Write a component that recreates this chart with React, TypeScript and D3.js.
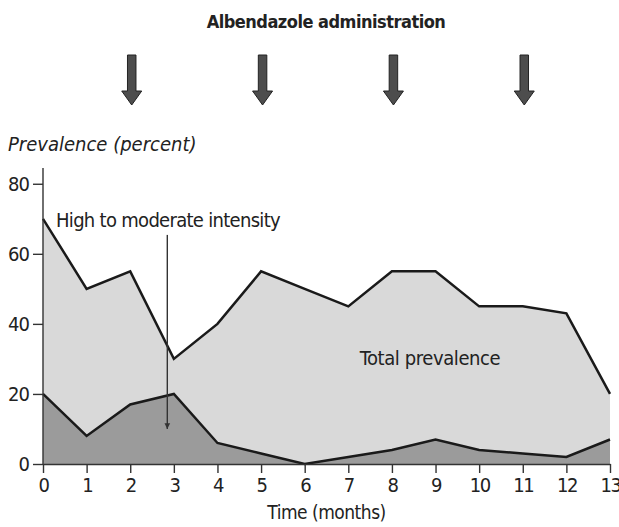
import { useEffect, useRef } from "react";
import * as d3 from "d3";

const months = [0, 1, 2, 3, 4, 5, 6, 7, 8, 9, 10, 11, 12, 13];
const totalPrevalence = [70, 50, 55, 30, 40, 55, 50, 45, 55, 55, 45, 45, 43, 20];
const highModerate = [20, 8, 17, 20, 6, 3, 0, 2, 4, 7, 4, 3, 2, 7];
const yTicks = [0, 20, 40, 60, 80];
const doseMonths = [2, 5, 8, 11];

const FONT = "'Liberation Sans Narrow', 'DejaVu Sans Condensed', 'Roboto Condensed', sans-serif";

export default function App() {
  const ref = useRef<SVGSVGElement>(null);

  useEffect(() => {
    drawChart();
  }, []);

  function drawChart() {
    const width = 619, height = 527;
    const margin = { top: 168, right: 9, bottom: 63, left: 43 };

    const svg = d3.select(ref.current);
    svg.selectAll("*").remove();
    svg.attr("width", width).attr("height", height);

    const x = d3.scaleLinear().domain([0, 13]).range([margin.left, width - margin.right]);
    const y = d3.scaleLinear().domain([0, 84.5]).range([height - margin.bottom, margin.top]);

    const data = months.map((m, i) => ({ m, total: totalPrevalence[i], high: highModerate[i] }));

    // areas
    svg.append("path")
      .datum(data)
      .attr("fill", "#d9d9d9")
      .attr("d", d3.area<any>().x(d => x(d.m)).y0(y(0)).y1(d => y(d.total)));
    svg.append("path")
      .datum(data)
      .attr("fill", "#9b9b9b")
      .attr("d", d3.area<any>().x(d => x(d.m)).y0(y(0)).y1(d => y(d.high)));

    // lines
    const line = (key: string) => d3.line<any>().x(d => x(d.m)).y(d => y(d[key]));
    svg.append("path").datum(data).attr("fill", "none").attr("stroke", "#1a1a1a")
      .attr("stroke-width", 2.5).attr("d", line("total"));
    svg.append("path").datum(data).attr("fill", "none").attr("stroke", "#1a1a1a")
      .attr("stroke-width", 2.5).attr("d", line("high"));

    // y axis
    svg.append("g")
      .attr("transform", `translate(${margin.left},0)`)
      .call(d3.axisLeft(y).tickValues(yTicks).tickSize(10).tickPadding(4))
      .call(g => g.select(".domain").attr("d", `M0,${y(0)}V${margin.top}`))
      .call(g => g.selectAll("line,path").attr("stroke", "#333").attr("stroke-width", 1.4))
      .call(g => g.selectAll("text").attr("font-size", 20).attr("letter-spacing", -1)
        .attr("fill", "#222").attr("font-family", FONT));

    // x axis
    svg.append("g")
      .attr("transform", `translate(0,${y(0)})`)
      .call(d3.axisBottom(x).tickValues(months).tickSize(9).tickPadding(5).tickSizeOuter(0))
      .call(g => g.selectAll("line,path").attr("stroke", "#333").attr("stroke-width", 1.4))
      .call(g => g.selectAll("text").attr("font-size", 20).attr("letter-spacing", -1.5)
        .attr("fill", "#222").attr("font-family", FONT));

    // annotation arrow
    svg.append("defs").append("marker")
      .attr("id", "head")
      .attr("viewBox", "0 0 10 10")
      .attr("refX", 10).attr("refY", 5)
      .attr("markerWidth", 4).attr("markerHeight", 5)
      .attr("orient", "auto")
      .append("path").attr("d", "M0,0L10,5L0,10z").attr("fill", "#333");
    svg.append("line")
      .attr("x1", x(2.85)).attr("x2", x(2.85))
      .attr("y1", y(65.4)).attr("y2", y(10))
      .attr("stroke", "#333").attr("stroke-width", 1.4)
      .attr("marker-end", "url(#head)");

    svg.append("text")
      .attr("x", 56).attr("y", 227)
      .attr("font-size", 20).attr("letter-spacing", -0.7).attr("fill", "#222").attr("font-family", FONT)
      .text("High to moderate intensity");

    svg.append("text")
      .attr("x", 430).attr("y", 365)
      .attr("text-anchor", "middle")
      .attr("font-size", 20).attr("letter-spacing", -0.4).attr("fill", "#222").attr("font-family", FONT)
      .text("Total prevalence");

    svg.append("text")
      .attr("x", 8).attr("y", 151)
      .attr("font-size", 20).attr("font-style", "italic").attr("fill", "#222").attr("font-family", FONT)
      .text("Prevalence (percent)");

    svg.append("text")
      .attr("x", (x(0) + x(13)) / 2).attr("y", 519)
      .attr("text-anchor", "middle")
      .attr("font-size", 19).attr("letter-spacing", -0.5).attr("fill", "#222").attr("font-family", FONT)
      .text("Time (months)");

    svg.append("text")
      .attr("x", 326).attr("y", 28)
      .attr("text-anchor", "middle")
      .attr("font-size", 18).attr("letter-spacing", -0.5).attr("font-weight", "bold")
      .attr("fill", "#222").attr("font-family", FONT)
      .text("Albendazole administration");

    // dose arrows
    const shaftW = 8.5, headW = 20, top = 55, headTop = 91, tip = 105;
    svg.append("g")
      .selectAll("path")
      .data(doseMonths)
      .join("path")
      .attr("d", m => {
        const cx = x(m) + 1.5;
        return `M${cx - shaftW / 2},${top}H${cx + shaftW / 2}V${headTop}H${cx + headW / 2}L${cx},${tip}L${cx - headW / 2},${headTop}H${cx - shaftW / 2}Z`;
      })
      .attr("fill", "#4d4d4d")
      .attr("stroke", "#222")
      .attr("stroke-width", 1);
  }

  return <svg ref={ref} style={{ position: "absolute", left: 0, top: 0 }} />;
}
